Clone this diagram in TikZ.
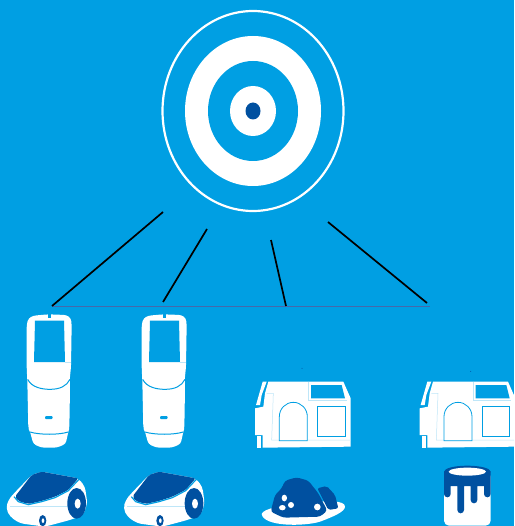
\documentclass[tikz,border=0pt]{standalone}
\definecolor{bgblue}{RGB}{0,159,227}
\definecolor{darkblue}{RGB}{0,80,160}
\definecolor{paleblue}{RGB}{190,230,248}
\definecolor{railblue}{RGB}{70,105,170}
\tikzset{
  wire/.style={black,line width=1.7pt},
  white fill/.style={fill=white,draw=none},
  dark fill/.style={fill=darkblue,draw=none},
  bg fill/.style={fill=bgblue,draw=none},
  pale/.style={paleblue,line width=0.5pt},
  accent/.style={bgblue,line width=0.8pt},
  meter/.pic={
    \path[white fill,rounded corners=3pt] (80,75) -- (85,55) -- (100,47) -- (145,43) -- (200,45) -- (213,55) -- (215,75)
      -- (213,200) -- (209,240) -- (210,265) -- (208,385) -- (205,395) -- (197,432)
      -- (170,443) -- (125,443) -- (100,432) -- (90,395) -- (85,385) -- (82,245) -- (80,200) -- cycle;
    \path[bg fill] (105,62) -- (192,62) -- (195,186) -- (102,186) -- cycle;
    \path[bg fill] (145,42) rectangle (152,53);
    \draw[pale] (195,186) -- (213,186);
    \draw[bgblue,line width=1pt] (83,238) .. controls (95,262) and (125,268) .. (150,268) .. controls (180,268) and (200,258) .. (210,238);
    \draw[bgblue,line width=1pt] (90,396) .. controls (120,405) and (175,405) .. (205,396);
    \path[bg fill,rounded corners=1pt] (135,348) rectangle (158,357);
  },
  printer/.pic={
    \path[white fill] (68,65) -- (80,65) -- (65,105) -- (60,135) -- (48,135) -- cycle;
    \path[white fill] (85,65) -- (75,100) -- (70,140) -- (45,145) -- (45,225) -- (68,225) -- (68,263)
       -- (332,260) -- (332,115) -- (310,65) -- cycle;
    \path[white fill] (52,228) rectangle (63,263);
    \path[bg fill] (213,75) -- (305,75) -- (315,115) -- (213,115) -- cycle;
    \draw[pale] (205,65) -- (205,120) -- (320,120);
    \draw[pale] (80,100) -- (100,100) -- (95,240) -- (332,240);
    \draw[accent,fill=white] (118,242) -- (118,170) arc[start angle=180,end angle=360,x radius=42,y radius=43] -- (202,242) -- cycle;
    \draw[accent,fill=white] (232,138) rectangle (315,230);
  },
  autocar/.pic={
    \path[white fill,rounded corners=4pt] (18,625) -- (25,600) -- (42,580) -- (95,525) -- (125,515) -- (235,535) -- (255,560)
       -- (262,610) -- (250,645) -- (210,660) -- (135,680) -- (60,670) -- (30,650) -- cycle;
    \draw[pale] (30,620) -- (205,620);
    \path[dark fill,rounded corners=2pt] (45,590) -- (95,525) -- (125,515) -- (235,535) -- (205,570) -- (165,590) -- (125,603) -- (85,612) -- (55,603) -- cycle;
    \draw[bgblue,line width=1.2pt] (42,590) -- (55,605) -- (85,614) -- (125,605) -- (165,593) -- (205,572) -- (238,537);
    \path[dark fill] (230,610) ellipse[x radius=28,y radius=46];
    \path[white fill] (233,611) ellipse[x radius=9,y radius=15];
    \path[dark fill] (128,662) ellipse[x radius=11,y radius=17];
    \path[white fill] (129,662) ellipse[x radius=4,y radius=7];
  }
}
\begin{document}
\begin{tikzpicture}[x=1pt,y=-1pt]
\useasboundingbox (0,0) rectangle (514,526);
\clip (0,0) rectangle (514,526);
\fill[bgblue] (0,0) rectangle (514,526);
% target
\draw[white,line width=2.2pt] (253,111) ellipse[x radius=90.5,y radius=100];
\fill[white] (253,111) ellipse[x radius=68,y radius=75];
\fill[bgblue] (253,111) ellipse[x radius=45,y radius=50];
\fill[white] (253,111) ellipse[x radius=23,y radius=25];
\fill[darkblue] (253,111) ellipse[x radius=7.5,y radius=8.5];
% connectors
\coordinate (a1) at (163,212); \coordinate (b1) at (52,306);
\coordinate (a2) at (207,229); \coordinate (b2) at (163,302);
\coordinate (a3) at (271,240); \coordinate (b3) at (286,306);
\coordinate (a4) at (328,222); \coordinate (b4) at (427,303);
\coordinate (c0) at (430,306.5);
\draw[railblue,line width=1pt] (b1|-c0) -- (c0);
\draw[wire] (a1) -- (b1);
\draw[wire] (a2) -- (b2);
\draw[wire] (a3) -- (b3);
\draw[wire] (a4) -- (b4);
% meters and cars
\begin{scope}[shift={(0,300)},x=1pt/3,y=-1pt/3]
  \pic at (0,0) {meter};
  \pic at (345,0) {meter};
  \pic at (0,0) {autocar};
  \pic at (352,0) {autocar};
\end{scope}
% printers, pile, can
\begin{scope}[shift={(240,360)},x=1pt/3,y=-1pt/3]
  \pic at (0,0) {printer};
  \pic at (494,0) {printer};
  \fill[darkblue] (186,25) circle[radius=1.5];
  \fill[darkblue] (692,34) circle[radius=1.5];
  % pile on a plate
  \path[white fill] (65,462) .. controls (70,445) and (130,435) .. (200,428) .. controls (260,422) and (315,420) .. (315,440)
     .. controls (315,455) and (280,470) .. (240,485) .. controls (190,500) and (70,500) .. (65,462) -- cycle;
  \path[dark fill,rounded corners=3pt] (92,455) -- (105,405) -- (125,385) -- (135,362) -- (170,352) -- (205,362) -- (235,400) -- (262,452) -- (240,470) -- (130,473) -- cycle;
  \path[dark fill,rounded corners=2pt] (232,385) -- (260,378) -- (285,405) -- (295,445) -- (265,450) -- (245,410) -- cycle;
  \fill[white] (133,414) ellipse[x radius=8,y radius=10];
  \fill[white] (127,443) ellipse[x radius=10,y radius=8];
  \fill[white] (153,435) circle[radius=9];
  \fill[white] (232,441) circle[radius=10];
  % paint can
  \path[white fill,rounded corners=5pt] (612,335) rectangle (752,497);
  \path[dark fill] (612,335) -- (612,402) arc[start angle=180,end angle=0,radius=10] -- (632,378) -- (652,378) -- (652,450)
     arc[start angle=180,end angle=0,radius=10] -- (672,378) -- (692,378) -- (692,420) arc[start angle=180,end angle=0,radius=10]
     -- (712,378) -- (732,378) -- (732,402) arc[start angle=180,end angle=0,radius=10] -- (752,335) -- cycle;
  \fill[darkblue] (682,335) ellipse[x radius=70,y radius=18];
  \fill[white] (682,335) ellipse[x radius=56,y radius=12];
\end{scope}
\end{tikzpicture}
\end{document}
